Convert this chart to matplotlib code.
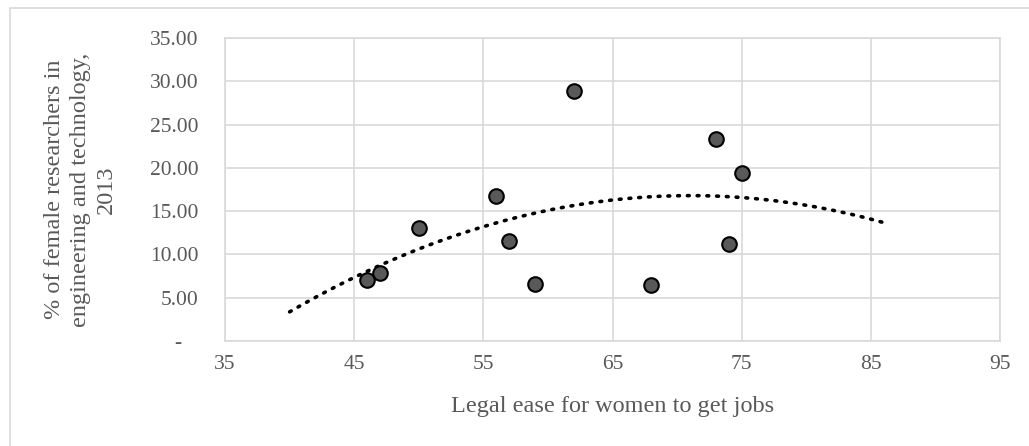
import numpy as np
import matplotlib
matplotlib.use("Agg")
import matplotlib.pyplot as plt
from matplotlib.patches import Rectangle

# legal ease score vs share of female researchers in engineering (2013)
legal_ease = [46, 47, 50, 56, 57, 59, 62, 68, 73, 74, 75]
female_pct = [7.1, 7.9, 13.0, 16.7, 11.6, 6.6, 28.9, 6.5, 23.3, 11.2, 19.4]
x_ticks = [35, 45, 55, 65, 75, 85, 95]
y_ticks = [0, 5, 10, 15, 20, 25, 30, 35]
trend_range = (40, 86)

grey_txt = "#595959"
grid_col = "#d9d9d9"

plt.rcParams['font.family'] = ['Liberation Serif', 'DejaVu Serif']

fig = plt.figure(figsize=(10.29, 4.46), dpi=100)
ax = fig.add_axes([0.2187, 0.2354, 0.7531, 0.6794])

# outer chart frame (right/bottom edges fall outside the image)
fig.patches.append(Rectangle((0.0097, -0.1), 1.1, 1.082, transform=fig.transFigure,
                             fill=False, edgecolor=grid_col, linewidth=1.2))

# polynomial (order 2) trendline like Excel
coef = np.polyfit(legal_ease, female_pct, 2)
xt = np.linspace(trend_range[0], trend_range[1], 200)
ax.plot(xt, np.polyval(coef, xt), color="black", linestyle=(0, (0.5, 2.2)),
        linewidth=2.6, dash_capstyle="round", zorder=2)

ax.scatter(legal_ease, female_pct, s=110, facecolor=grey_txt, edgecolor="black",
           linewidth=1.5, zorder=3)

ax.set_xlim(35, 95)
ax.set_ylim(0, 35)
ax.set_xticks(x_ticks)
ax.set_yticks(y_ticks)
ax.set_yticklabels(["-   " if v == 0 else f"{v:.2f}" for v in y_ticks])
ax.grid(True, color=grid_col, linewidth=1.2)
ax.set_axisbelow(True)
for sp in ax.spines.values():
    sp.set_color(grid_col)
    sp.set_linewidth(1.2)
ax.tick_params(length=0, labelsize=15.5, labelcolor=grey_txt)
ax.tick_params(axis="x", pad=10)
ax.tick_params(axis="y", pad=19)

ax.set_xlabel("Legal ease for women to get jobs", fontsize=17.5, color=grey_txt, labelpad=16)
ax.set_ylabel("% of female researchers in\nengineering and technology,\n2013",
              fontsize=17.5, color=grey_txt, labelpad=24, linespacing=1.3)

fig.savefig("out.png", dpi=100)
